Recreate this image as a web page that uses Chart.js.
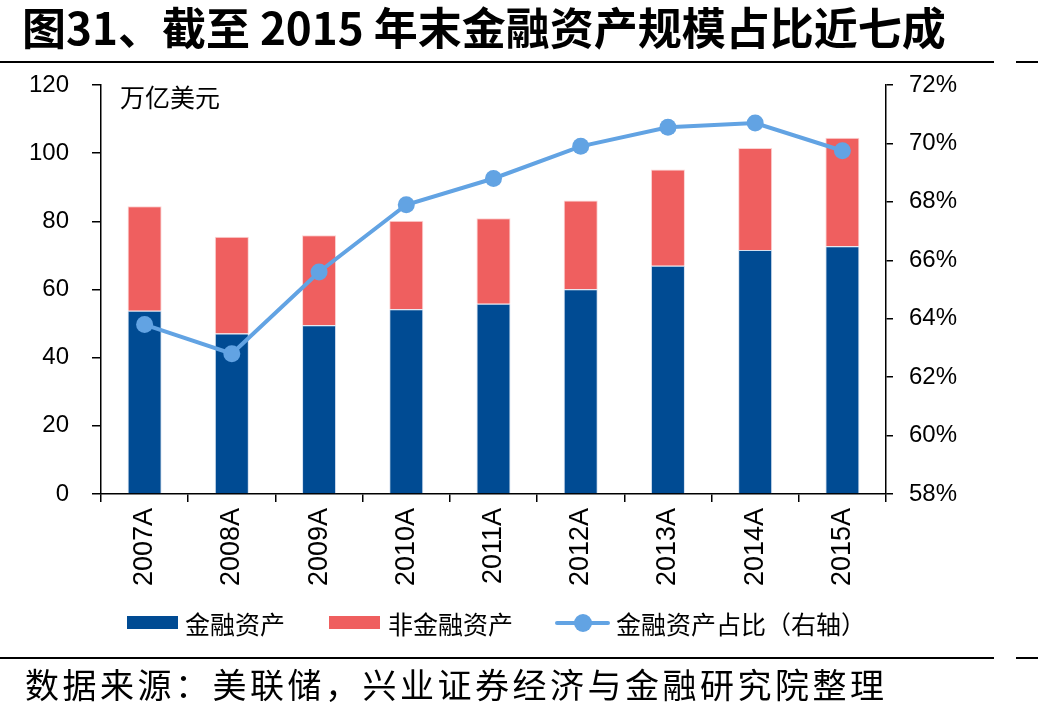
<!DOCTYPE html>
<html>
<head>
<meta charset="utf-8">
<script src="https://cdn.jsdelivr.net/npm/chart.js@4/dist/chart.umd.min.js"></script>
<style>
  html, body { margin: 0; padding: 0; background: #fff; }
  body { width: 1038px; height: 719px; position: relative; overflow: hidden; font-family: "Noto Sans CJK SC", sans-serif; }
  #title { position: absolute; left: 22px; top: -2px; font-size: 44px; font-weight: bold; line-height: 56px; color: #000; white-space: nowrap; }
  .rule { position: absolute; height: 2px; background: #000; }
  #unit { position: absolute; left: 120px; top: 80px; font-size: 25px; line-height: 32px; color: #000; }
  #source { position: absolute; left: 25px; top: 662px; font-size: 34px; line-height: 44px; letter-spacing: 3.5px; color: #000; white-space: nowrap; }
  .leg { position: absolute; top: 606px; font-size: 25px; line-height: 34px; color: #000; white-space: nowrap; }
  .box { position: absolute; height: 13px; width: 51px; top: 616px; }
  canvas { position: absolute; left: 0; top: 0; }
</style>
</head>
<body>
<canvas id="c" width="1038" height="719"></canvas>
<div id="title">图31、截至 2015 年末金融资产规模占比近七成</div>
<div class="rule" style="left:0;top:61px;width:994px"></div>
<div class="rule" style="left:1016px;top:61px;width:22px"></div>
<div class="rule" style="left:0;top:657px;width:994px"></div>
<div class="rule" style="left:1016px;top:657px;width:22px"></div>
<div id="unit">万亿美元</div>
<div class="box" style="left:127px;background:#004B93"></div>
<div class="leg" style="left:185px">金融资产</div>
<div class="box" style="left:329px;background:#EF5F5F"></div>
<div class="leg" style="left:388px">非金融资产</div>
<div style="position:absolute;left:555px;top:621px;width:55px;height:4px;background:#62A3E3;border-radius:2px"></div>
<div style="position:absolute;left:574px;top:614px;width:18px;height:18px;border-radius:50%;background:#62A3E3"></div>
<div class="leg" style="left:616px">金融资产占比（右轴）</div>
<div id="source">数据来源：美联储，兴业证券经济与金融研究院整理</div>
<script>
const years = ['2007A', '2008A', '2009A', '2010A', '2011A', '2012A', '2013A', '2014A', '2015A']
const financial = [53.8, 47.1, 49.5, 54.2, 55.8, 60.1, 67.0, 71.6, 72.7]
const nonFinancial = [30.6, 28.4, 26.4, 26.0, 25.1, 26.0, 28.2, 29.9, 31.8]
const financialShare = [63.8, 62.8, 65.6, 67.9, 68.8, 69.9, 70.55, 70.7, 69.75]

const tickFont = { family: 'Liberation Sans, Arial, sans-serif', size: 24 }

new Chart(document.getElementById('c'), {
    type: 'bar',
    data: {
        labels: years,
        datasets: [
            {
                type: 'line',
                label: '金融资产占比（右轴）',
                data: financialShare,
                yAxisID: 'y1',
                borderColor: '#62A3E3',
                backgroundColor: '#62A3E3',
                borderWidth: 4,
                pointRadius: 8.5,
                pointHoverRadius: 8.5,
                pointBorderWidth: 0,
                tension: 0,
                order: 0
            },
            {
                label: '金融资产',
                data: financial,
                backgroundColor: '#004B93',
                borderColor: 'rgba(200,215,235,0.8)',
                borderWidth: 1,
                stack: 's',
                order: 1
            },
            {
                label: '非金融资产',
                data: nonFinancial,
                backgroundColor: '#EF5F5F',
                borderColor: 'rgba(250,200,200,0.8)',
                borderWidth: 1,
                stack: 's',
                order: 1
            }
        ]
    },
    options: {
        responsive: false,
        animation: false,
        layout: { padding: { left: 0, right: 0, top: 85, bottom: 131 } },
        plugins: { legend: { display: false }, tooltip: { enabled: false } },
        datasets: { bar: { categoryPercentage: 1, barPercentage: 0.39 } },
        scales: {
            x: {
                stacked: true,
                grid: { drawOnChartArea: false, drawTicks: true, tickLength: 8, color: '#000', lineWidth: 1.5, offset: true },
                border: { display: true, color: '#000', width: 1.5 },
                ticks: { color: '#000', font: { family: 'Liberation Sans, Arial, sans-serif', size: 27 }, minRotation: 90, maxRotation: 90, padding: 6, autoSkip: false },
                afterFit: s => { s.height = 94 }
            },
            y: {
                stacked: true,
                min: 0,
                max: 120,
                ticks: { stepSize: 20, color: '#000', font: tickFont, padding: 23 },
                grid: { drawOnChartArea: false, drawTicks: true, tickLength: 9, color: '#000', lineWidth: 1.5 },
                border: { display: true, color: '#000', width: 1.5 },
                afterFit: s => { s.width = 101 }
            },
            y1: {
                position: 'right',
                min: 58,
                max: 72,
                ticks: { stepSize: 2, color: '#000', font: tickFont, padding: 16, callback: v => v + '%' },
                grid: { drawOnChartArea: false, drawTicks: true, tickLength: 7, color: '#000', lineWidth: 1.5 },
                border: { display: true, color: '#000', width: 1.5 },
                afterFit: s => { s.width = 152 }
            }
        }
    }
})
</script>
</body>
</html>
